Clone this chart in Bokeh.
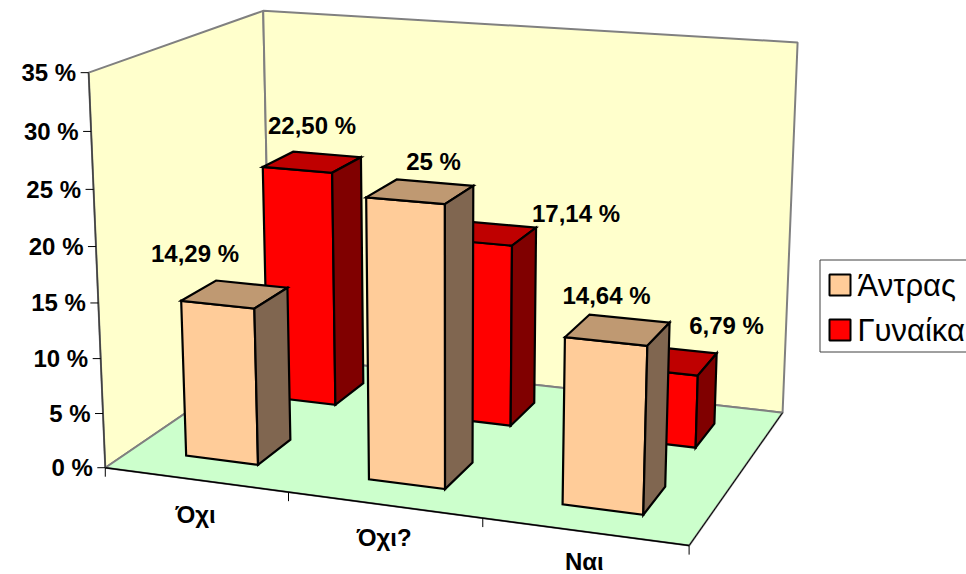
import numpy as np
from bokeh.core.properties import value
from bokeh.embed import file_html
from bokeh.models import ColumnDataSource, Range1d
from bokeh.plotting import figure
from bokeh.resources import INLINE

# Chart data
categories = ["Όχι", "Όχι?", "Ναι"]
series_names = ["Άντρας", "Γυναίκα"]
men = [14.29, 25.0, 14.64]
women = [22.50, 17.14, 6.79]
men_labels = ["14,29 %", "25 %", "14,64 %"]
women_labels = ["22,50 %", "17,14 %", "6,79 %"]
y_ticks = [0, 5, 10, 15, 20, 25, 30, 35]

# Layout of the perspective box: (category pos, value, depth row) -> page pixel
Y_MAX = 35.0
calibration = [
    (0, 0, 0, 105, 467), (3, 0, 0, 689, 545), (0, 0, 2, 270, 355), (3, 0, 2, 782, 412),
    (0, 35, 0, 88, 72), (0, 35, 2, 263, 10), (3, 35, 2, 797, 42),
    (1, 0, 0, 288, 491.5), (2, 0, 0, 482, 518),
    (0, 30, 0, 90.5, 131.7), (0, 25, 0, 93, 189), (0, 20, 0, 95.5, 246),
    (0, 15, 0, 98, 302), (0, 10, 0, 100, 358), (0, 5, 0, 102.5, 413),
]


def fit_projection(points):
    rows, rhs = [], []
    for cx, val, row, u, v in points:
        X, Y, Z = cx / 3.0, val / Y_MAX, row / 2.0
        rows.append([X, Y, Z, 1, 0, 0, 0, 0, -u * X, -u * Y, -u * Z])
        rhs.append(u)
        rows.append([0, 0, 0, 0, X, Y, Z, 1, -v * X, -v * Y, -v * Z])
        rhs.append(v)
    return np.linalg.lstsq(np.array(rows, float), np.array(rhs, float), rcond=None)[0]


H = fit_projection(calibration)


def project(cx, val, row):
    X, Y, Z = cx / 3.0, val / Y_MAX, row / 2.0
    w = H[8] * X + H[9] * Y + H[10] * Z + 1
    return (H[0] * X + H[1] * Y + H[2] * Z + H[3]) / w, (H[4] * X + H[5] * Y + H[6] * Z + H[7]) / w


def face(*corners):
    pts = [project(*c) for c in corners]
    return [q[0] for q in pts], [q[1] for q in pts]


p = figure(width=966, height=574, output_backend="svg", toolbar_location=None,
           x_range=Range1d(0, 966), y_range=Range1d(574, 0),
           x_axis_type=None, y_axis_type=None, min_border=0, outline_line_color=None)
p.xgrid.visible = False
p.ygrid.visible = False

WALL, FLOOR, GREY = "#FFFFCC", "#CCFFCC", "#808080"
FONT = value("Liberation Sans")
TEXT_SIZE = "24px"

# Walls and floor
for fill, corners in [
    (WALL, [(0, 0, 0), (0, 35, 0), (0, 35, 2), (0, 0, 2)]),
    (WALL, [(0, 0, 2), (0, 35, 2), (3, 35, 2), (3, 0, 2)]),
    (FLOOR, [(0, 0, 0), (0, 0, 2), (3, 0, 2), (3, 0, 0)]),
]:
    xs, ys = face(*corners)
    p.patch(xs, ys, fill_color=fill, line_color=GREY, line_width=2)

# Front and right floor edges and the value axis edge
for a, b, col, w in [((0, 0, 0), (3, 0, 0), "black", 1.5), ((3, 0, 0), (3, 0, 2), "black", 1),
                     ((0, 0, 0), (0, 35, 0), "#404040", 1.5)]:
    xs, ys = face(a, b)
    p.line(xs, ys, line_color=col, line_width=w)

# Value axis ticks and labels
tick_pts = [project(0, t, 0) for t in y_ticks]
tx = [q[0] for q in tick_pts]
ty = [q[1] for q in tick_pts]
p.segment([x - 8 for x in tx], ty, tx, ty, line_color="black", line_width=1)
p.text(tx, ty, text=[f"{t} %" for t in y_ticks], x_offset=-12.5, text_align="right",
       text_baseline="middle", text_font=FONT, text_font_style="bold",
       text_font_size=TEXT_SIZE, text_color="black")

# Category ticks and labels
cat_pts = [project(i, 0, 0) for i in range(len(categories) + 1)]
cx = [q[0] for q in cat_pts]
cy = [q[1] for q in cat_pts]
p.segment(cx, cy, cx, [y + 9 for y in cy], line_color="black", line_width=1)
mid = [project(i + 0.5, 0, 0) for i in range(len(categories))]
cat_drop = [35, 33, 29.5]
p.text([q[0] for q in mid], [q[1] + d for q, d in zip(mid, cat_drop)], text=categories,
       text_align="center", text_baseline="middle", text_font=FONT,
       text_font_style="bold", text_font_size=TEXT_SIZE, text_color="black")

# 3D columns: back row first, each row left to right
X0, X1 = 0.3, 0.7
Z0, Z1 = 0.3, 0.7
styles = [("#FFCC99", "#BF9972", "#806650"), ("#FF0000", "#BF0000", "#800000")]


def draw_row(values, row, colors):
    xs, ys, fills = [], [], []
    for i, v in enumerate(values):
        a, b = i + X0, i + X1
        c, d = row + Z0, row + Z1
        faces = [
            face((a, 0, c), (a, v, c), (b, v, c), (b, 0, c)),
            face((a, v, c), (a, v, d), (b, v, d), (b, v, c)),
            face((b, 0, c), (b, v, c), (b, v, d), (b, 0, d)),
        ]
        for (fx, fy), col in zip(faces, colors):
            xs.append(fx)
            ys.append(fy)
            fills.append(col)
    src = ColumnDataSource(dict(xs=xs, ys=ys, fill=fills))
    return p.patches("xs", "ys", source=src, fill_color="fill", line_color="black",
                     line_width=2.2, line_join="miter")


draw_row(women, 1, styles[1])
draw_row(men, 0, styles[0])

# Data labels, placed beside each column top
label_centres = [(194.5, 253), (433, 161), (606, 295), (311.5, 125), (575.5, 213), (726, 325)]
p.text([q[0] for q in label_centres], [q[1] for q in label_centres],
       text=men_labels + women_labels, text_align="center", text_baseline="middle",
       text_font=FONT, text_font_style="bold", text_font_size=TEXT_SIZE,
       text_color="black")

# Legend panel running off the right edge of the page
p.quad(left=[819.5], right=[975], top=[259.5], bottom=[351.5], fill_color="white",
       line_color="#404040", line_width=1)
swatch_top = [274, 319]
p.quad(left=[829, 829], right=[850, 850], top=swatch_top, bottom=[t + 21 for t in swatch_top],
       fill_color=[styles[0][0], styles[1][0]], line_color="black", line_width=2)
p.text([857, 857], [284.5, 329.5], text=series_names, text_align="left", text_baseline="middle",
       text_font=FONT, text_font_size="31px", text_color="black")

open("out.html", "w").write(file_html(p, INLINE))
